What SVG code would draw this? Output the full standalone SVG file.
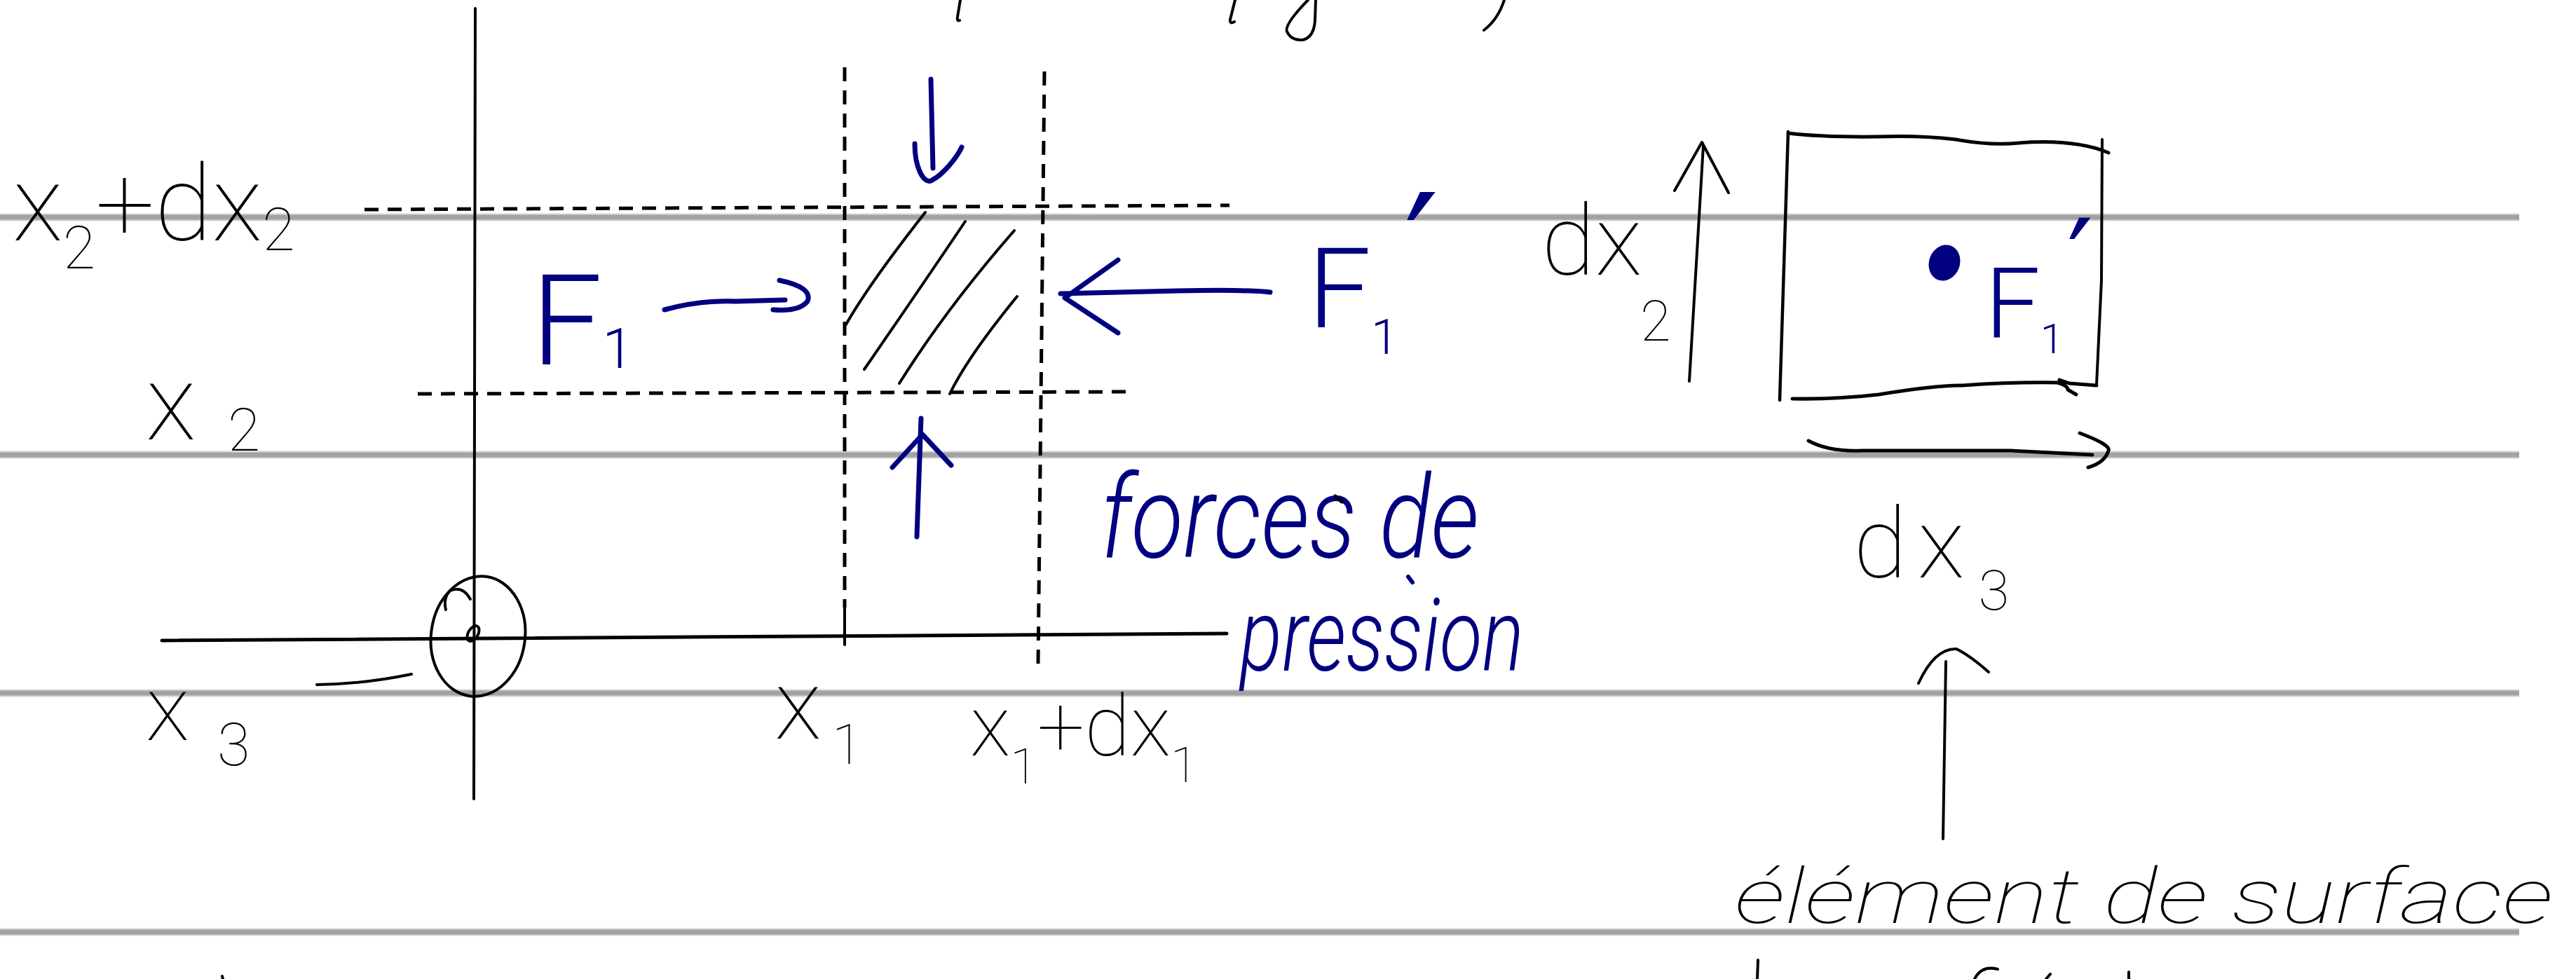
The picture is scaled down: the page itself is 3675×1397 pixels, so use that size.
<svg xmlns="http://www.w3.org/2000/svg" width="3675" height="1397" viewBox="0 0 3675 1397">
<style>
.rule{stroke:#a2a2a2;stroke-width:7;fill:none}
.rule2{stroke:#d6d6d6;stroke-width:11;fill:none}
.ink{fill:none;stroke:#000;stroke-width:4;stroke-linecap:round;stroke-linejoin:round}
.axis{fill:none;stroke:#000;stroke-width:4;stroke-linecap:round}
.dash{fill:none;stroke:#000;stroke-width:5;stroke-dasharray:20 13}
.pen{fill:none;stroke:#000080;stroke-width:7;stroke-linecap:round;stroke-linejoin:round}
.lbl{font-family:Roboto,Lato,"DejaVu Sans",sans-serif;font-weight:100;fill:#000}
.blbl{font-family:Roboto,Lato,"DejaVu Sans",sans-serif;font-weight:300;fill:#000080}
.prime{font-family:"DejaVu Sans",sans-serif;fill:#000080}
.cur{font-style:italic}
</style>
<rect width="3675" height="1397" fill="#fff"/>
<g id="ruled-lines">
<path class="rule2" d="M0,310H3594M0,649H3594M0,989H3594M0,1330H3594"/>
<path class="rule" d="M0,310H3594M0,649H3594M0,989H3594M0,1330H3594"/>
</g>
<g id="cutoff-fragments">
<path class="ink" d="M1370,0L1366,24Q1365,31 1369,29"/>
<path class="ink" d="M1762,0L1755,28Q1754,35 1761,31"/>
<path class="ink" d="M1866,0Q1832,35 1836,45Q1842,58 1858,57Q1874,54 1876,30L1877,0"/>
<path class="ink" d="M2146,0Q2137,28 2117,43"/>
<path class="ink" d="M2508,1370L2507,1397M2817,1397Q2827,1377 2850,1383M2925,1390L2919,1397M3037,1387L3037,1397M317,1393L318,1397"/>
</g>
<g id="axes">
<path class="axis" d="M678,12L676,1140"/>
<path class="axis" d="M231,914L1750,904" style="stroke-width:5"/>
<ellipse class="ink" cx="682" cy="908" rx="67" ry="86" transform="rotate(8 682 908)"/>
<path class="ink" d="M671,855Q660,835 642,843Q632,853 636,870"/>
<ellipse class="ink" cx="675" cy="904" rx="7" ry="12" transform="rotate(30 675 904)"/>
<path class="ink" d="M452,977Q520,976 587,962"/>
</g>
<g id="grid-lines">
<path class="dash" d="M520,299L1754,293"/>
<path class="dash" d="M596,562L1619,559"/>
<path class="dash" d="M1205,96L1205,867"/>
<path class="ink" d="M1205,867L1205,920"/>
<path class="dash" d="M1490,102L1481,947"/>
</g>
<g id="element-hatched">
<path class="ink" d="M1320,303Q1240,405 1207,463"/>
<path class="ink" d="M1377,316Q1300,430 1233,527"/>
<path class="ink" d="M1447,329Q1350,440 1283,547"/>
<path class="ink" d="M1451,423Q1380,510 1355,562"/>
</g>
<g id="label-x2dx2"><text class="lbl" x="18" y="343" font-size="150">x<tspan font-size="85" dy="40">2</tspan><tspan dy="-40">+dx</tspan><tspan font-size="85" dy="14">2</tspan></text></g>
<g id="label-x2"><text class="lbl" x="208" y="627" font-size="150">x<tspan font-size="85" dx="45" dy="16">2</tspan></text></g>
<g id="label-x3"><text class="lbl" x="208" y="1056" font-size="130">x<tspan font-size="85" dx="40" dy="36">3</tspan></text></g>
<g id="label-x1"><text class="lbl" x="1105" y="1054" font-size="140">x<tspan font-size="80" dx="15" dy="36">1</tspan></text></g>
<g id="label-x1dx1"><text class="lbl" x="1384" y="1078" font-size="120">x<tspan font-size="70" dy="40">1</tspan><tspan dy="-40">+dx</tspan><tspan font-size="70" dy="38">1</tspan></text></g>
<g id="label-F1"><text class="blbl" x="758" y="520" font-size="180">F<tspan font-size="80" dy="5">1</tspan></text></g>
<g id="label-F1prime"><text class="blbl" x="1866" y="467" font-size="160">F<tspan font-size="70" dy="38">1</tspan></text>
<text class="prime" x="2003" y="434" font-size="220">′</text></g>
<g id="label-forces"><text class="blbl cur" x="1570" y="795" font-size="165" textLength="540" lengthAdjust="spacingAndGlyphs">forces de</text>
<text class="blbl cur" x="1769" y="957" font-size="145" textLength="405" lengthAdjust="spacingAndGlyphs">pression</text>
<path class="pen" d="M2009,823L2015,831" style="stroke-width:6"/>
<path class="ink" d="M1905,708L1914,716" style="stroke-width:5"/></g>
<g id="surface-element">
<path class="ink" d="M2551,188L2539,571" style="stroke-width:4.5"/>
<path class="ink" d="M2551,190Q2600,196 2680,195Q2740,193 2790,199Q2840,208 2880,204Q2960,198 3008,218" style="stroke-width:5"/>
<path class="ink" d="M2999,199L2998,400L2991,549" style="stroke-width:4"/>
<path class="ink" d="M2557,569Q2620,570 2680,563Q2760,550 2800,550Q2870,545 2935,546Q2950,550 2950,556L2962,563M2938,542L2952,547L2991,550" style="stroke-width:5"/>
<ellipse cx="2774" cy="375" rx="22" ry="26" fill="#000080" transform="rotate(20 2774 375)"/>
<text class="blbl" x="2832" y="481" font-size="140">F<tspan font-size="60" dy="23">1</tspan></text>
<text class="prime" x="2949" y="432" font-size="165">′</text>
</g>
<g id="label-dx2"><text class="lbl" x="2199" y="392" font-size="140">dx</text><text class="lbl" x="2340" y="486" font-size="80">2</text></g>
<g id="label-dx3"><text class="lbl" x="2644" y="824" font-size="140" letter-spacing="15">dx<tspan font-size="80" dx="5" dy="46" letter-spacing="0">3</tspan></text></g>
<g id="label-surface"><text class="lbl cur" x="2475" y="1317" font-size="110" textLength="1167" lengthAdjust="spacingAndGlyphs">élément de surface</text></g>
<g id="connectors">
<path class="pen" d="M1328,113L1331,240M1305,205C1305,240 1318,262 1328,258C1345,250 1365,225 1372,210"/>
<path class="pen" d="M948,442Q1000,428 1050,430L1120,428M1112,400Q1160,410 1152,430Q1140,445 1103,442"/>
<path class="pen" d="M1812,417Q1780,413 1680,415L1513,419M1595,371L1519,425L1595,475"/>
<path class="pen" d="M1314,597L1308,766M1273,667L1316,620L1357,664"/>
<path class="ink" d="M2410,544L2430,208M2389,272L2428,203L2466,275"/>
<path class="ink" d="M2580,629Q2610,645 2656,643L2868,643L2985,649M2967,618Q3012,635 3008,643Q3003,660 2979,667" style="stroke-width:5"/>
<path class="ink" d="M2772,1197L2776,944M2737,975Q2760,925 2791,926Q2810,935 2837,959"/>
</g>
</svg>
